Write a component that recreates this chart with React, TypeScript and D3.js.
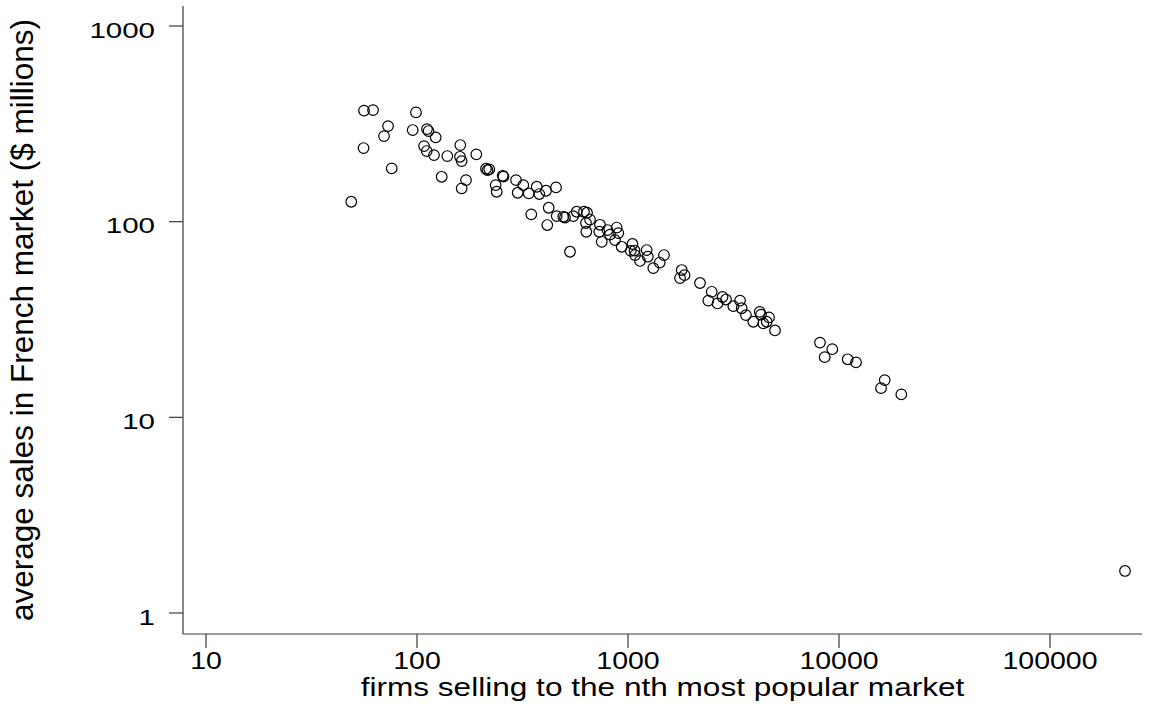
import React from "react";
import * as d3 from "d3";

// Number of firms selling to the nth most popular export market
const firms: number[] = [
  48.8, 56.1, 61.9, 72.9, 69.8, 55.8, 75.9, 98.9, 95.4, 111.5,
  113.4, 122.6, 108, 111.2, 120.4, 139.2, 160.4, 159.9, 162.8, 191,
  130.9, 170.7, 162.8, 212.3, 220.1, 215.8, 254.7, 257, 236, 238.6,
  294.6, 319, 300.1, 338.4, 369.3, 379.9, 408.6, 455.9, 420.9, 348,
  414.4, 459.4, 493.6, 502.8, 550.5, 571.4, 618.6, 632.3, 531.1, 639.3,
  660.6, 634.4, 736.8, 731.1, 750.6, 799.4, 821.6, 884, 899.5, 867.8,
  933.4, 1050, 1031, 1074, 1080, 1140, 1226, 1241, 1318, 1413,
  1481, 1797, 1853, 1764, 2194, 2493, 2402, 2656, 2805, 2914,
  3157, 3396, 3457, 3622, 3925, 4210, 4270, 4658, 4543, 4378,
  4973, 8125, 9294, 8555, 10995, 12040, 16470, 15820, 19740, 226700,
];

// Average sales in the French market ($ millions) of those firms
const sales: number[] = [
  126.4, 369.6, 371.8, 307.9, 273.8, 237.8, 187.3, 361.8, 293.9, 297.3,
  290.4, 269.7, 243.4, 229.5, 218.9, 216.4, 246.3, 214.6, 204, 220.8,
  169.6, 163.1, 148, 186.4, 185.1, 183.5, 171.6, 170, 153.8, 142.2,
  163.1, 153.8, 140.5, 139.5, 150.8, 138.4, 143.9, 149.7, 117.8, 109,
  96.1, 106.8, 105.9, 105, 106.8, 112.4, 112.4, 98.4, 70.2, 111.1,
  102.5, 88.8, 96.4, 88.8, 78.9, 90.6, 85.9, 93.3, 87.4, 80.5,
  74.4, 76.9, 70.9, 71.2, 67.5, 63, 71.6, 66.2, 57.9, 61.8,
  67.5, 56.6, 53.3, 51.5, 48.6, 43.8, 39.5, 38.2, 41.2, 40,
  37, 39.5, 36.1, 33.3, 30.8, 34.6, 33.5, 32.4, 30.8, 30.2,
  27.8, 24.1, 22.3, 20.3, 19.8, 19.1, 15.5, 14.1, 13.1, 1.64,
];

const xTicks: number[] = [10, 100, 1000, 10000, 100000];
const yTicks: number[] = [1, 10, 100, 1000];

const xTitle = "firms selling to the nth most popular market";
const yTitle = "average sales in French market ($ millions)";

const W = 1150;
const H = 704;
const FONT = "'Liberation Sans', Arial, Helvetica, sans-serif";
const AXIS = "#3a3a3a";

export default function App() {
  const x = d3.scaleLog().domain([10, 100000]).range([206, 1050]);
  const y = d3.scaleLog().domain([1, 1000]).range([613, 26]);

  const axisLeft = 183;
  const axisBottom = 634;
  const axisTop = 6;
  const axisRight = 1142;
  const tickLen = 14;

  const points = firms.map((f, i) => ({ f, s: sales[i] }));

  return (
    <svg
      width={W}
      height={H}
      style={{ position: "absolute", left: 0, top: 0, background: "#fff" }}
      fontFamily={FONT}
    >
      <rect x={0} y={0} width={W} height={H} fill="#fff" />

      {/* y axis */}
      <line x1={axisLeft} x2={axisLeft} y1={axisTop} y2={axisBottom} stroke={AXIS} strokeWidth={1.2} />
      {yTicks.map((t) => (
        <g key={"yt" + t}>
          <line x1={axisLeft - tickLen} x2={axisLeft} y1={y(t)} y2={y(t)} stroke={AXIS} strokeWidth={1.2} />
          <g transform={`translate(155,${y(t) + 11.5}) scale(1,0.76)`}>
            <text textAnchor="end" fontSize={29.5} fill="#000">
              {String(t)}
            </text>
          </g>
        </g>
      ))}

      {/* x axis */}
      <line x1={axisLeft} x2={axisRight} y1={axisBottom} y2={axisBottom} stroke={AXIS} strokeWidth={1.2} />
      {xTicks.map((t) => (
        <g key={"xt" + t}>
          <line x1={x(t)} x2={x(t)} y1={axisBottom} y2={axisBottom + tickLen} stroke={AXIS} strokeWidth={1.2} />
          <g transform={`translate(${x(t)},668.5) scale(1,0.82)`}>
            <text textAnchor="middle" fontSize={28.5} fill="#000">
              {String(t)}
            </text>
          </g>
        </g>
      ))}

      {/* axis titles */}
      <g transform={`translate(${(axisLeft + axisRight) / 2},696) scale(1,0.82)`}>
        <text textAnchor="middle" fontSize={31.6} fill="#000">
          {xTitle}
        </text>
      </g>
      <g transform={`translate(33,${(axisTop + axisBottom) / 2}) rotate(-90)`}>
        <text textAnchor="middle" fontSize={31.5} fill="#000">
          {yTitle}
        </text>
      </g>

      {/* markers */}
      {points.map((p, i) => (
        <circle
          key={i}
          cx={x(p.f)}
          cy={y(p.s)}
          r={5.3}
          fill="none"
          stroke="#000"
          strokeWidth={1.2}
        />
      ))}
    </svg>
  );
}
